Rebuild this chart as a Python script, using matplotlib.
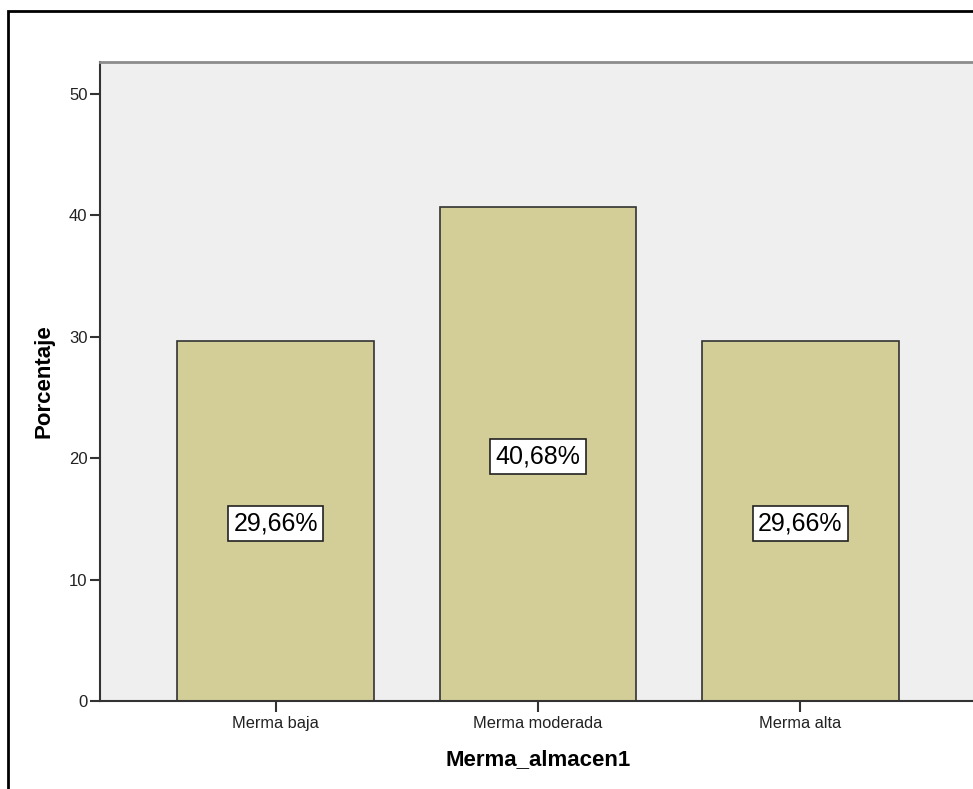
import matplotlib
matplotlib.use("Agg")
import matplotlib.pyplot as plt
from matplotlib.patches import Rectangle

plt.rcParams['font.family'] = ['Liberation Sans', 'DejaVu Sans']

categories = ["Merma baja", "Merma moderada", "Merma alta"]
percentages = [29.66, 40.68, 29.66]
bar_labels = ["29,66%", "40,68%", "29,66%"]
y_ticks = [0, 10, 20, 30, 40, 50]

W, H = 973, 789
fig = plt.figure(figsize=(W / 100, H / 100), dpi=100)

# outer frame (cut off on the right and bottom like the screenshot)
fig.patches.append(Rectangle((8 / W, -0.1), 1.2, 1 - 11 / H + 0.1,
                             transform=fig.transFigure, fill=False,
                             edgecolor="black", linewidth=2.0, zorder=0))

left, right, top, bottom = 100, 976, 62, 701
ax = fig.add_axes([left / W, 1 - bottom / H, (right - left) / W, (bottom - top) / H])
ax.set_facecolor("#EFEFEF")

x = list(range(len(categories)))
ax.bar(x, percentages, width=0.75, color="#D3CE98", edgecolor="#333333",
       linewidth=1.2, zorder=2)

for xi, val, lab in zip(x, percentages, bar_labels):
    ax.text(xi, val / 2 - 0.25, lab, ha="center", va="center", fontsize=18,
            color="black", zorder=3,
            bbox=dict(boxstyle="square,pad=0.22", facecolor="white",
                      edgecolor="#222222", linewidth=1.2))

ax.set_xlim(-0.67, 2.67)
ax.set_ylim(0, 52.6)
ax.set_xticks(x)
ax.set_xticklabels(categories, fontsize=11.8, color="#222222")
ax.set_yticks(y_ticks)
ax.set_yticklabels([str(t) for t in y_ticks], fontsize=12, color="#222222")
ax.tick_params(axis="x", length=8, width=1.5, color="#333333", pad=3)
ax.tick_params(axis="y", length=7, width=1.5, color="#333333", pad=2)

for side in ["left", "bottom"]:
    ax.spines[side].set_color("#333333")
    ax.spines[side].set_linewidth(1.5)
ax.spines["top"].set_color("#8C8C8C")
ax.spines["top"].set_linewidth(2)
ax.spines["right"].set_visible(False)

ax.set_xlabel("Merma_almacen1", fontsize=16, fontweight="bold")
ax.xaxis.set_label_coords(0.5, -(760 - bottom) / (bottom - top))
ax.xaxis.label.set_verticalalignment("center")
ax.set_ylabel("Porcentaje", fontsize=16, fontweight="bold")
ax.yaxis.set_label_coords(-(left - 44) / (right - left), 0.5)
ax.yaxis.label.set_verticalalignment("center")

fig.savefig("out.png", dpi=100)
